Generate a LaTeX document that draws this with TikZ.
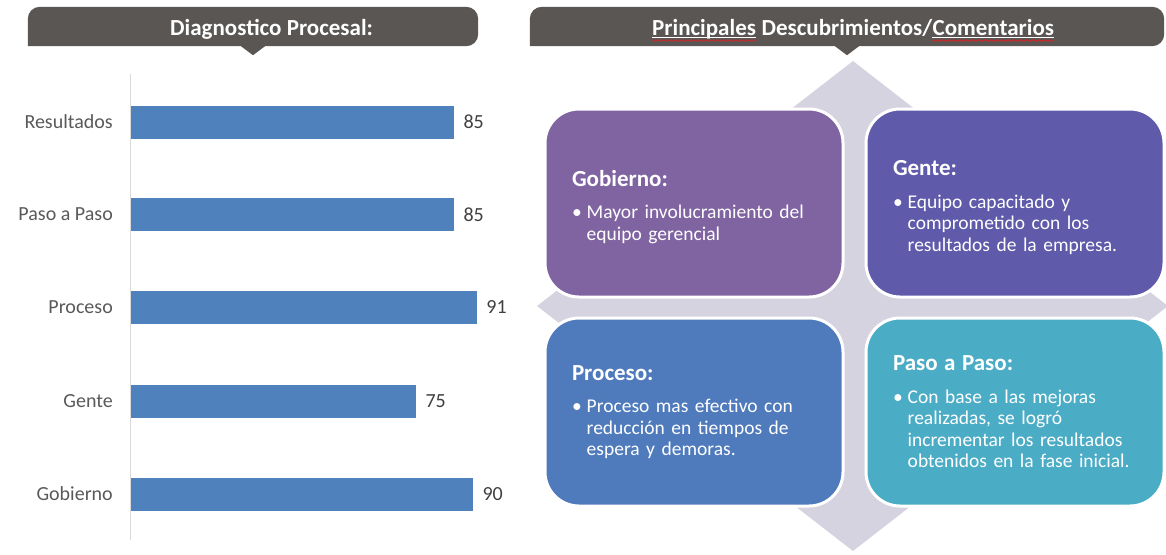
\documentclass[tikz,border=0pt]{standalone}
\usepackage{fontspec}
\setmainfont{Carlito}
\usetikzlibrary{positioning,calc,decorations.pathmorphing}

\definecolor{hdrgray}{RGB}{89,86,84}
\definecolor{barblue}{RGB}{79,129,189}
\definecolor{axisgray}{RGB}{217,217,217}
\definecolor{catgray}{RGB}{89,89,89}
\definecolor{valgray}{RGB}{64,64,64}
\definecolor{diamgray}{RGB}{214,211,225}
\definecolor{cgob}{RGB}{128,100,162}
\definecolor{cgen}{RGB}{95,90,170}
\definecolor{cpro}{RGB}{79,123,189}
\definecolor{cpap}{RGB}{75,172,198}
\definecolor{spellred}{RGB}{225,30,30}

\newcommand\cardtitle[1]{{\bfseries\fontsize{23}{26}\selectfont #1}\\[11pt]}
\newcommand\bul{\textbullet\hspace{5pt}}
\newcommand\nobul{\hphantom{\textbullet\hspace{5pt}}}

\begin{document}
\begin{tikzpicture}[x=1pt,y=-1pt,node distance=18pt,
    bar/.style={fill=barblue,minimum height=33pt,inner sep=0pt,anchor=west},
    cat/.style={text=catgray,font=\fontsize{20}{24}\selectfont,inner sep=0pt},
    val/.style={text=valgray,font=\fontsize{20}{24}\selectfont,inner sep=0pt},
    banner/.style={minimum height=39pt,inner sep=0pt},
    htext/.style={text=white,font=\bfseries\fontsize{23}{27}\selectfont,inner sep=0pt,anchor=base west},
    spell/.style={spellred,line width=0.6pt,decorate,decoration={snake,amplitude=0.8pt,segment length=3pt}},
    card/.style={rounded corners=34pt,draw=white,line width=3pt,text=white,
        minimum height=188pt,text width=244pt,inner xsep=27pt,align=left,
        font=\fontsize{19.5}{21.5}\selectfont}]
    \useasboundingbox (0,0) rectangle (1166,554);

    % headers
    \node[banner,minimum width=450pt] (hdiag) at (253,26.5) {};
    \node[banner,minimum width=634pt] (hprin) at (847,26.5) {};
    \fill[hdrgray,rounded corners=12pt] (hdiag.south west) |- (hdiag.north) -| (hdiag.south east) [sharp corners] -- cycle;
    \fill[hdrgray] ($(hdiag.south)+(-12,0)$) -- ($(hdiag.south)+(0,9)$) -- ($(hdiag.south)+(12,0)$) -- cycle;
    \fill[hdrgray,rounded corners=12pt] (hprin.south west) |- (hprin.north) -| (hprin.south east) [sharp corners] -- cycle;
    \fill[hdrgray] ($(hprin.south)+(-12,0)$) -- ($(hprin.south)+(0,9)$) -- ($(hprin.south)+(12,0)$) -- cycle;

    \node[htext] (t_diag) at (170,35) {Diagnostico Procesal:};
    \node[htext] (t_pri) at (652,35) {Principales};
    \node[htext,base right=5.2pt of t_pri] (t_des) {Descubrimientos/};
    \node[htext,base right=0pt of t_des] (t_com) {Comentarios};
    \draw[white,line width=0.8pt] ($(t_pri.base west)+(0,2.5)$) -- ($(t_pri.base east)+(0,2.5)$);
    \draw[white,line width=0.8pt] ($(t_com.base west)+(0,2.5)$) -- ($(t_com.base east)+(0,2.5)$);
    \draw[spell] ($(t_pri.base west)+(0,5.5)$) -- ($(t_pri.base east)+(0,5.5)$);
    \draw[spell] ($(t_com.base west)+(0,5.5)$) -- ($(t_com.base east)+(0,5.5)$);

    % bar chart
    \coordinate (axtop) at (130,74);
    \coordinate (axbot) at (130,540);
    \draw[axisgray,line width=1pt] (axtop) -- (axbot);

    \node[bar,minimum width={85*3.8pt}] (b_res) at (131,122) {};
    \node[bar,minimum width={85*3.8pt}] (b_pap) at (131,214.5) {};
    \node[bar,minimum width={91*3.8pt}] (b_pro) at (131,307) {};
    \node[bar,minimum width={75*3.8pt}] (b_gen) at (131,401) {};
    \node[bar,minimum width={90*3.8pt}] (b_gob) at (131,494) {};

    \node[cat,left=of b_res] (l_res) {Resultados};
    \node[cat,left=of b_pap] (l_pap) {Paso a Paso};
    \node[cat,left=of b_pro] (l_pro) {Proceso};
    \node[cat,left=of b_gen] (l_gen) {Gente};
    \node[cat,left=of b_gob] (l_gob) {Gobierno};

    \node[val,right=9pt of b_res] (v_res) {85};
    \node[val,right=9pt of b_pap] (v_pap) {85};
    \node[val,right=9pt of b_pro] (v_pro) {91};
    \node[val,right=9pt of b_gen] (v_gen) {75};
    \node[val,right=9pt of b_gob] (v_gob) {90};

    % matrix of findings, diamond behind
    \fill[diamgray] (853,61) -- (1168,306) -- (853,551) -- (537,306) -- cycle;
    \node[card,fill=cgob] (gob) at (694,203) {\rule{0pt}{24pt}\cardtitle{Gobierno:}
        \bul Mayor involucramiento del\\ \nobul equipo gerencial};
    \node[card,fill=cgen,right=20pt of gob] (gen) {\rule{0pt}{24pt}\cardtitle{Gente:}
        \bul Equipo capacitado y\\ \nobul comprometido con los\\ \nobul resultados de la empresa.};
    \node[card,fill=cpro,below=18pt of gob] (pro) {\cardtitle{Proceso:}
        \bul Proceso mas efectivo con\\ \nobul reducción en tiempos de\\ \nobul espera y demoras.};
    \node[card,fill=cpap,below=18pt of gen] (pap) {\cardtitle{Paso a Paso:}
        \bul Con base a las mejoras\\ \nobul realizadas, se logró\\ \nobul incrementar los resultados\\ \nobul obtenidos en la fase inicial.};
\end{tikzpicture}
\end{document}
